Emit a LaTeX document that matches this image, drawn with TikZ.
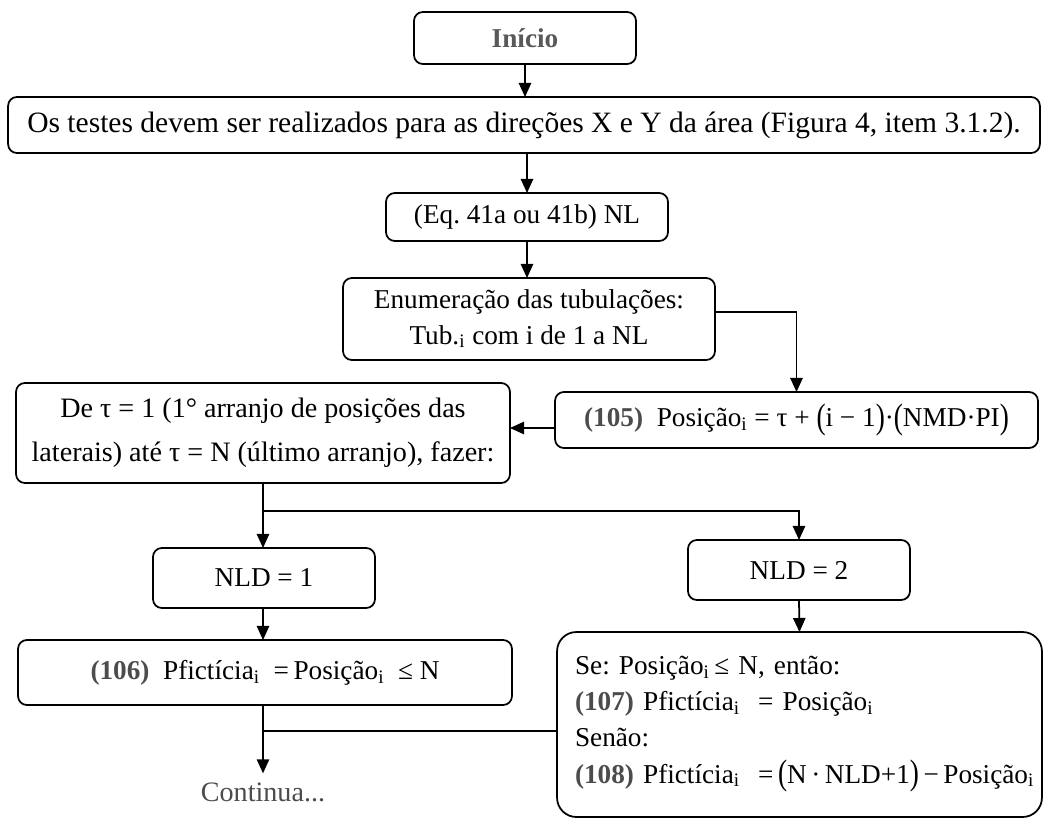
\documentclass[tikz,border=0pt]{standalone}
\usepackage{fontspec}
\setmainfont{Liberation Serif}
\usepackage{graphicx}
\usetikzlibrary{arrows.meta,calc}
\frenchspacing

% tall parentheses for the formulas
\newcommand{\tp}[1]{\raisebox{-0.15ex}{\scalebox{1}[1.3]{#1}}}
% equation number tag
\newcommand{\eqtag}[1]{{\color{black!70}\textbf{(#1)}}}

\begin{document}
\begin{tikzpicture}[x=0.02cm,y=-0.02cm,
  box/.style={draw, line width=1pt, rounded corners=5pt, inner sep=0pt, outer sep=0pt,
              align=center, font=\fontsize{15.5}{19}\selectfont},
  link/.style={line width=1pt},
  arr/.style={link, -{Triangle[length=8pt,width=7pt]}}]

\useasboundingbox (0,0) rectangle (1048,819);

% process boxes
\node[box, minimum width=4.44cm, minimum height=1.04cm, text=black!65,
      font=\bfseries\fontsize{15.5}{19}\selectfont] (inicio) at (525,38) {Início};
\node[box, minimum width=20.64cm, minimum height=1.12cm, font=\fontsize{16.8}{19}\selectfont] (testes) at (524,125)
  {Os testes devem ser realizados para as direções X e Y da área (Figura 4, item 3.1.2).};
\node[box, minimum width=5.64cm, minimum height=0.96cm] (eq) at (527,217)
  {(Eq. 41a ou 41b) NL};
\node[box, minimum width=7.44cm, minimum height=1.64cm, font=\fontsize{15.5}{20}\selectfont] (enum) at (529,319)
  {Enumeração das tubulações:\\Tub.\textsubscript{i} com i de 1 a NL};
\node[box, minimum width=9.66cm, minimum height=1.12cm] (pos) at (796.5,420)
  {\eqtag{105}\ \ Posição\textsubscript{i} = τ + \tp{(}i − 1\tp{)}·\tp{(}NMD·PI\tp{)}};
\node[box, minimum width=9.88cm, minimum height=2.0cm, font=\fontsize{16}{25}\selectfont] (de) at (263,433)
  {De τ = 1 (1° arranjo de posições das\\laterais) até τ = N (último arranjo), fazer:};
\node[box, minimum width=4.44cm, minimum height=1.2cm] (nld1) at (264,578) {NLD = 1};
\node[box, minimum width=9.88cm, minimum height=1.3cm] (p106) at (265,672.5)
  {\eqtag{106}\ \ Pfictícia\textsubscript{i}\ \ =\,Posição\textsubscript{i}\ \ ≤ N};
\node[box, minimum width=4.44cm, minimum height=1.2cm] (nld2) at (799,570) {NLD = 2};
\node[box, rounded corners=11pt, align=left, text width=8.98cm, inner xsep=0.36cm,
      minimum height=3.70cm, font=\fontsize{15.5}{20.5}\selectfont] (se) at (799.5,724.5)
  {\mbox{Se: Posição\textsubscript{i}\,≤ N, então:}\\
   \mbox{\eqtag{107}\ Pfictícia\textsubscript{i}\ \ = Posição\textsubscript{i}}\\
   \mbox{Senão:}\\
   \mbox{\eqtag{108}\ Pfictícia\textsubscript{i}\ \ =\,\tp{(}N\,·\,NLD+1\tp{)}\,−\,Posição\textsubscript{i}}};
\node[font=\fontsize{16}{18}\selectfont, text=black!70, inner sep=5pt] (cont) at (263,792) {Continua...};

% junction points
\coordinate (j1) at (263,511);
\coordinate (j2) at (263,731);

% connectors
\draw[arr] (inicio.south) -- (inicio.south |- testes.north);
\draw[arr] (eq.north |- testes.south) -- (eq.north);
\draw[arr] (eq.south) -- (eq.south |- enum.north);
\draw[arr] ($(enum.east)+(0,-7)$) -| (pos.north);
\draw[arr] ($(pos.west)+(0,8)$) -- ($(de.east |- pos.west)+(0,8)$);
\draw[link] (de.south) -- (j1);
\draw[arr] (j1) -- (nld1.north -| j1);
\draw[arr] (j1) -| (nld2.north);
\draw[arr] (nld1.south -| j1) -- (p106.north -| j1);
\draw[arr] (nld2.south) -- (se.north);
\draw[link] (p106.south -| j2) -- (j2);
\draw[link] (j2) -- (j2 -| se.west);
\draw[arr] (j2) -- (cont.north);
\end{tikzpicture}
\end{document}
